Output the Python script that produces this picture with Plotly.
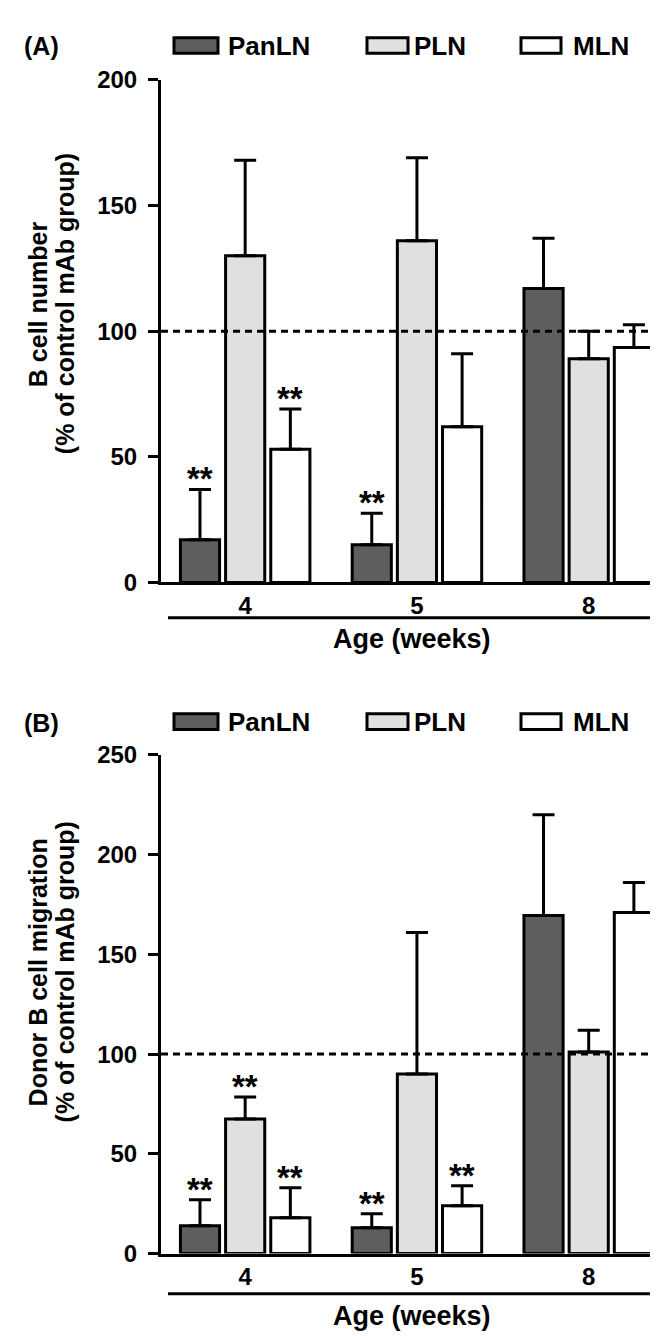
import plotly.graph_objects as go

# ---------------- data ----------------
ages = ["4", "5", "8"]
series = ["PanLN", "PLN", "MLN"]

# Panel A: B cell number (% of control mAb group)
A_panln = [17, 15, 117]
A_panln_err = [20, 12.5, 20]
A_pln = [130, 136, 89]
A_pln_err = [38, 33, 11]
A_mln = [53, 62, 93.5]
A_mln_err = [16, 29, 9]
A_panln_sig = [1, 1, 0]
A_pln_sig = [0, 0, 0]
A_mln_sig = [1, 0, 0]

# Panel B: Donor B cell migration (% of control mAb group)
B_panln = [14, 13, 169.5]
B_panln_err = [13, 7, 50.5]
B_pln = [67.5, 90, 101]
B_pln_err = [11, 71, 11]
B_mln = [18, 24, 171]
B_mln_err = [15, 10, 15]
B_panln_sig = [1, 1, 0]
B_pln_sig = [1, 0, 0]
B_mln_sig = [1, 1, 0]

# ---------------- style ----------------
W, H = 658, 1336
FONT = "Liberation Sans"
colors = ["#5e5e5e", "#e0e0e0", "#ffffff"]
bar_w = 0.228
pitch = 0.263
group_x = [0, 1, 2]


def px(x):
    return x / W


def py(y):
    return 1 - y / H


fig = go.Figure()

panels = [
    dict(vals=[A_panln, A_pln, A_mln], errs=[A_panln_err, A_pln_err, A_mln_err],
         sigs=[A_panln_sig, A_pln_sig, A_mln_sig], xa="x", ya="y"),
    dict(vals=[B_panln, B_pln, B_mln], errs=[B_panln_err, B_pln_err, B_mln_err],
         sigs=[B_panln_sig, B_pln_sig, B_mln_sig], xa="x2", ya="y2"),
]

annotations = []
shapes = []

for p in panels:
    for i, name in enumerate(series):
        off = (i - 1) * pitch - bar_w / 2
        fig.add_trace(go.Bar(
            x=group_x, y=p["vals"][i], name=name, showlegend=False,
            xaxis=p["xa"], yaxis=p["ya"],
            width=bar_w, offset=off,
            marker=dict(color=colors[i], line=dict(color="black", width=3)),
            error_y=dict(type="data", symmetric=False, array=p["errs"][i],
                         arrayminus=[0] * len(ages), color="black",
                         thickness=3, width=11),
        ))
        for g, (v, e, s) in enumerate(zip(p["vals"][i], p["errs"][i], p["sigs"][i])):
            if s:
                annotations.append(dict(
                    x=group_x[g] + (i - 1) * pitch, y=v + e,
                    xref=p["xa"], yref=p["ya"], text="**", showarrow=False,
                    xanchor="center", yanchor="bottom", yshift=-10,
                    font=dict(family=FONT, size=33, color="black"),
                ))
    # reference dashed line at 100 %
    shapes.append(dict(type="line", xref=p["xa"] + " domain", x0=0, x1=1,
                       yref=p["ya"], y0=100, y1=100, layer="above",
                       line=dict(color="black", width=3, dash="7px,5px")))

# panel labels, legends, age lines
for (label, leg_y, line_y, age_y) in [("(A)", 24, 608, 630), ("(B)", 714, 1298, 1321)]:
    annotations.append(dict(x=px(14), y=py(leg_y + 1), xref="paper", yref="paper",
                            text=label, showarrow=False, xanchor="left", yanchor="middle",
                            font=dict(family=FONT, size=25, color="black")))
    for i, (bx0, bx1, tx, name) in enumerate(zip([166, 359, 513], [210, 400, 553],
                                                 [218, 404, 563], series)):
        shapes.append(dict(type="rect", xref="paper", yref="paper",
                           x0=px(bx0), x1=px(bx1), y0=py(leg_y - 8), y1=py(leg_y + 8),
                           fillcolor=colors[i], line=dict(color="black", width=3)))
        annotations.append(dict(x=px(tx), y=py(leg_y), xref="paper", yref="paper",
                                text=name, showarrow=False, xanchor="left", yanchor="middle",
                                font=dict(family=FONT, size=26, color="black")))
    shapes.append(dict(type="line", xref="paper", yref="paper",
                       x0=px(160), x1=px(658), y0=py(line_y), y1=py(line_y),
                       line=dict(color="black", width=3)))
    annotations.append(dict(x=px(404), y=py(age_y), xref="paper", yref="paper",
                            text="Age (weeks)", showarrow=False, xanchor="center",
                            yanchor="middle", font=dict(family=FONT, size=27, color="black")))

# y-axis titles (one annotation per line)
for (line1, line2, cy) in [("B cell number", "(% of control mAb group)", 288),
                           ("Donor B cell migration", "(% of control mAb group)", 970)]:
    for (txt, cx) in [(line1, 30), (line2, 57)]:
        annotations.append(dict(x=px(cx), y=py(cy), xref="paper", yref="paper",
                                text=txt, textangle=-90, showarrow=False,
                                xanchor="center", yanchor="middle",
                                font=dict(family=FONT, size=25, color="black")))

xcommon = dict(range=[-0.49, 2.45], domain=[px(153), 1.0], tickvals=group_x, ticktext=ages,
               showline=True, linecolor="black", linewidth=3, ticks="", showgrid=False,
               zeroline=False, tickfont=dict(family=FONT, size=24, color="black"),
               fixedrange=True)
ycommon = dict(showline=True, linecolor="black", linewidth=3, ticks="outside", ticklen=10,
               tickwidth=3, tickcolor="black", showgrid=False, zeroline=False,
               ticklabelstandoff=6,
               tickfont=dict(family=FONT, size=24, color="black"), fixedrange=True)

fig.update_layout(
    width=W, height=H, margin=dict(l=0, r=0, t=0, b=0),
    paper_bgcolor="white", plot_bgcolor="white",
    font=dict(family=FONT, weight="bold", color="black"),
    barmode="overlay", showlegend=False,
    xaxis=dict(**xcommon, anchor="y"),
    yaxis=dict(**ycommon, range=[0, 200], tickvals=[0, 50, 100, 150, 200],
               domain=[py(572), py(59)], anchor="x"),
    xaxis2=dict(**xcommon, anchor="y2"),
    yaxis2=dict(**ycommon, range=[0, 250], tickvals=[0, 50, 100, 150, 200, 250],
                domain=[py(1257), py(748)], anchor="x2"),
    annotations=annotations, shapes=shapes,
)

fig.write_html("out.html")
